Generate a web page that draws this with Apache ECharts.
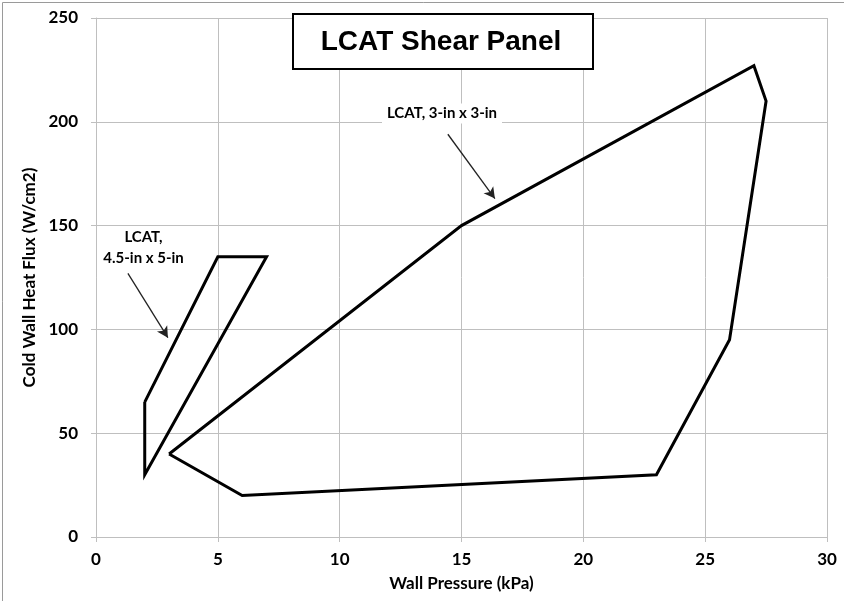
<!DOCTYPE html>
<html>
<head>
<meta charset="utf-8">
<script src="https://cdn.jsdelivr.net/npm/echarts@6/dist/echarts.min.js"></script>
<style>html,body{margin:0;padding:0;background:#fff;}#c{width:844px;height:601px;}</style>
</head>
<body>
<div id="c"></div>
<script>
// ---- data ----
const titleText = 'LCAT Shear Panel';
const xName = 'Wall Pressure (kPa)';
const yName = 'Cold Wall Heat Flux (W/cm2)';
const smallName = 'LCAT, 4.5-in x 5-in';
const smallX = [2, 5, 7, 2, 2];
const smallY = [65, 135, 135, 30, 65];
const largeName = 'LCAT, 3-in x 3-in';
const largeX = [3, 15, 27, 27.5, 26, 23, 6, 3];
const largeY = [40, 150, 227, 210, 95, 30, 20, 40];
// annotation arrows in data units: [fromX, fromY, toX, toY]
const arrowLarge = [14.44, 194, 16.37, 163];
const arrowSmall = [1.31, 127, 2.95, 96];
// annotation label anchors (data units)
const labelLarge = [14.2, 204];
const labelSmall1 = [1.95, 144.5];
const labelSmall2 = [1.95, 134.5];

const pts = (xs, ys) => xs.map((x, i) => [x, ys[i]]);
const gray = '#bfbfbf';
const tickFont = {fontFamily: 'Lato', fontWeight: 'bold', fontSize: 17, color: '#000'};
const nameFont = {fontFamily: 'Lato', fontWeight: 'bold', fontSize: 17, color: '#000'};

const chart = echarts.init(document.getElementById('c'), null, {renderer: 'canvas'});
const option = {
  animation: false,
  backgroundColor: '#fff',
  grid: {left: 96, right: 17, top: 18, bottom: 64},
  xAxis: {
    type: 'value', min: 0, max: 30, interval: 5,
    name: xName, nameLocation: 'middle', nameGap: 38,
    nameTextStyle: nameFont,
    axisLine: {show: true, onZero: false, lineStyle: {color: gray, width: 1}},
    axisTick: {show: true, inside: false, length: 5, lineStyle: {color: gray}},
    axisLabel: Object.assign({margin: 14}, tickFont),
    splitLine: {show: true, lineStyle: {color: gray, width: 1}}
  },
  yAxis: {
    type: 'value', min: 0, max: 250, interval: 50,
    name: yName, nameLocation: 'middle', nameGap: 54, nameRotate: 90,
    nameTextStyle: nameFont,
    axisLine: {show: true, onZero: false, lineStyle: {color: gray, width: 1}},
    axisTick: {show: true, inside: false, length: 5, lineStyle: {color: gray}},
    axisLabel: Object.assign({margin: 18}, tickFont),
    splitLine: {show: true, lineStyle: {color: gray, width: 1}}
  },
  series: [
    {
      name: smallName, type: 'line', data: pts(smallX, smallY),
      showSymbol: false, symbol: 'none',
      lineStyle: {color: '#000', width: 3, join: 'miter'}
    },
    {
      name: largeName, type: 'line', data: pts(largeX, largeY),
      showSymbol: false, symbol: 'none',
      lineStyle: {color: '#000', width: 3, join: 'miter'},
      markLine: {
        silent: true, symbol: ['none', 'arrow'], symbolSize: [9, 11],
        label: {show: false},
        lineStyle: {color: '#222', width: 1.3, type: 'solid'},
        data: [
          [{coord: [arrowLarge[0], arrowLarge[1]]}, {coord: [arrowLarge[2], arrowLarge[3]]}],
          [{coord: [arrowSmall[0], arrowSmall[1]]}, {coord: [arrowSmall[2], arrowSmall[3]]}]
        ]
      }
    }
  ]
};
chart.setOption(option);

function addGraphics() {
  const pL = chart.convertToPixel({gridIndex: 0}, labelLarge);
  const pS1 = chart.convertToPixel({gridIndex: 0}, labelSmall1);
  const pS2 = chart.convertToPixel({gridIndex: 0}, labelSmall2);
  const annFont = {fontFamily: 'Lato', fontWeight: 'bold', fontSize: 15, fill: '#000', align: 'center', verticalAlign: 'middle'};
  chart.setOption({
    graphic: [
      {type: 'line', shape: {x1: 2.5, y1: 2.5, x2: 844, y2: 2.5}, style: {stroke: '#9a9a9a', lineWidth: 1}, z: 100},
      {type: 'line', shape: {x1: 2.5, y1: 2.5, x2: 2.5, y2: 601}, style: {stroke: '#9a9a9a', lineWidth: 1}, z: 100},
      {type: 'rect', shape: {x: 293, y: 14, width: 300, height: 55}, style: {fill: '#fff', stroke: '#000', lineWidth: 2}, z: 100},
      {type: 'text', x: 441, y: 42, style: {text: titleText, font: 'bold 28px "Liberation Sans", Arial, sans-serif', fill: '#000', align: 'center', verticalAlign: 'middle'}, z: 101},
      {type: 'rect', shape: {x: pL[0] - 60, y: pL[1] - 10, width: 120, height: 20}, style: {fill: '#fff'}, z: 100},
      {type: 'text', x: pL[0], y: pL[1], style: Object.assign({text: largeName}, annFont), z: 101},
      {type: 'text', x: pS1[0], y: pS1[1], style: Object.assign({text: 'LCAT,'}, annFont), z: 101},
      {type: 'text', x: pS2[0], y: pS2[1], style: Object.assign({text: '4.5-in x 5-in'}, annFont), z: 101}
    ]
  });
}
addGraphics();
</script>
</body>
</html>
